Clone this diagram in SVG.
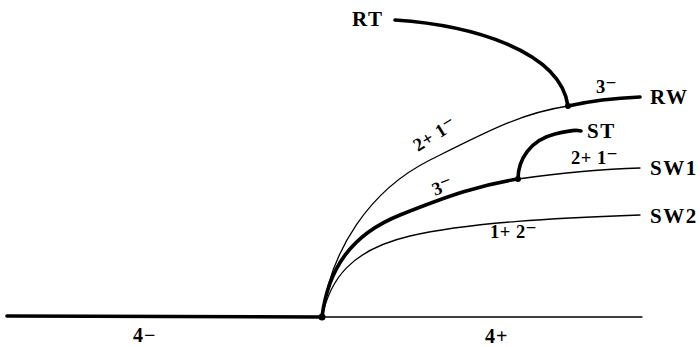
<svg xmlns="http://www.w3.org/2000/svg" width="700" height="347" viewBox="0 0 700 347">
<style>
.thick{fill:none;stroke:#000;stroke-width:3.6;stroke-linecap:round}
.thin{fill:none;stroke:#000;stroke-width:1.3;stroke-linecap:round}
.lbl{font-family:"Liberation Serif","Times New Roman",serif;font-weight:bold;font-size:21px;letter-spacing:1.5px;fill:#000}
.br{font-family:"Liberation Serif","Times New Roman",serif;font-weight:bold;font-size:18.5px;letter-spacing:0.5px;fill:#000}
.ax{font-family:"Liberation Serif","Times New Roman",serif;font-weight:bold;font-size:20px;letter-spacing:1px;fill:#000}
.dot{fill:#000}
</style>
<rect width="700" height="347" fill="#fff"/>
<g id="connectors">
<path class="thick" d="M7,316 L322,317"/>
<path class="thin" d="M322,317 L642,317"/>
<path class="thin" d="M322,317 C330,250 370,190 430,160 S522,113 568,106"/>
<path class="thick" d="M568,106 C590,101 615,98 640,97"/>
<path class="thick" d="M395,20 C470,25 560,50 568,106"/>
<path class="thick" d="M322,317 C328,270 350,235 400,215 S480,185 518,179"/>
<path class="thin" d="M518,179 C560,173 600,169 640,168"/>
<path class="thick" d="M518,179 C518,160 530,140 555,134 S575,131 581,131"/>
<path class="thin" d="M322,317 C330,280 350,250 410,236 S560,218 640,215"/>
</g>
<g id="origin"><circle class="dot" cx="322" cy="317" r="3.5"/></g>
<g id="junction-rw"><circle class="dot" cx="568" cy="106" r="3"/></g>
<g id="junction-sw1"><circle class="dot" cx="518" cy="179" r="3"/></g>
<g id="RT"><text class="lbl" x="352" y="26">RT</text></g>
<g id="RW"><text class="lbl" x="650" y="104">RW</text></g>
<g id="ST"><text class="lbl" x="587" y="138">ST</text></g>
<g id="SW1"><text class="lbl" x="650" y="175">SW1</text></g>
<g id="SW2"><text class="lbl" x="650" y="223">SW2</text></g>
<g id="labels">
<text class="br" x="596" y="93">3<tspan dy="-4">−</tspan></text>
<text class="br" x="571" y="164">2+ 1<tspan dy="-4">−</tspan></text>
<text class="br" x="490" y="238">1+ 2<tspan dy="-4">−</tspan></text>
<text class="br" x="418" y="152" transform="rotate(-32 418 152)">2+ 1<tspan dy="-4">−</tspan></text>
<text class="br" x="435" y="196" transform="rotate(-22 435 196)">3<tspan dy="-4">−</tspan></text>
<text class="ax" x="133" y="342">4−</text>
<text class="ax" x="485" y="343">4+</text>
</g>
</svg>
